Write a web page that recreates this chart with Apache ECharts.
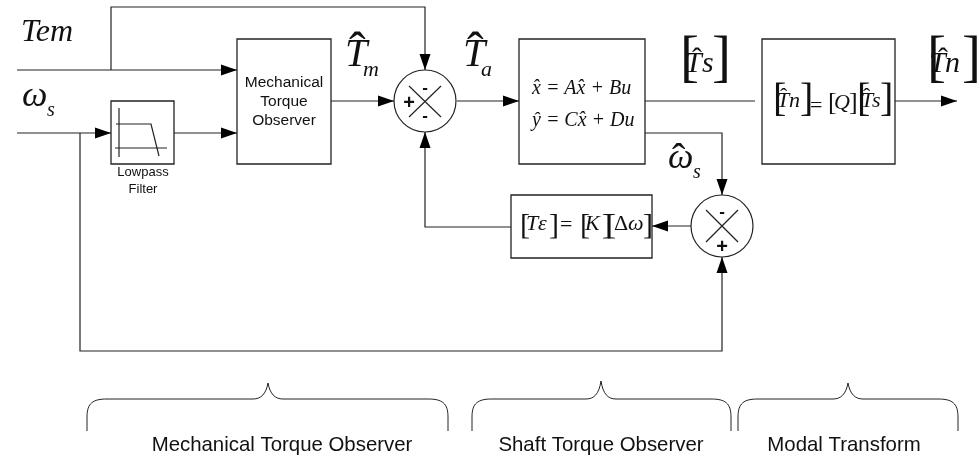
<!DOCTYPE html>
<html>
<head>
<meta charset="utf-8">
<title>Torque observer block diagram</title>
<script src="https://cdn.jsdelivr.net/npm/echarts@6/dist/echarts.min.js"></script>
<style>
  html,body{margin:0;padding:0;background:#fff;}
  #chart{width:979px;height:455px;}
</style>
</head>
<body>
<div id="chart"></div>
<script>
// diagram units are the 979x455 picture
var blocks = [
  [237, 39, 331, 164],
  [111, 101, 174, 164],
  [519, 39, 645, 164],
  [762, 39, 895, 164],
  [511, 195, 652, 258]
];
var summers = [[425, 101, 31], [722, 226, 31]];
var wires = [
  [[17, 70], [237, 70]],
  [[111, 70], [111, 7], [425, 7], [425, 70]],
  [[17, 133], [111, 133]],
  [[174, 133], [237, 133]],
  [[331, 101], [394, 101]],
  [[457, 101], [519, 101]],
  [[645, 101], [755, 101]],
  [[895, 101], [957, 101]],
  [[645, 133], [722, 133], [722, 195]],
  [[691, 226], [652, 226]],
  [[511, 227], [425, 227], [425, 132]],
  [[80, 133], [80, 351], [722, 351], [722, 257]],
  // crosses inside the summers
  [[409, 86], [441, 117]],
  [[409, 117], [441, 86]],
  [[706, 210], [738, 242]],
  [[706, 242], [738, 210]],
  // lowpass sketch
  [[119, 108], [119, 157]],
  [[115, 148], [167, 148]],
  [[116, 124], [151, 124], [159, 156]]
];
var arrows = [
  [237, 70, 'r'],
  [111, 133, 'r'],
  [237, 133, 'r'],
  [394, 101, 'r'],
  [519, 101, 'r'],
  [957, 101, 'r'],
  [425, 70, 'd'],
  [722, 195, 'd'],
  [425, 132, 'u'],
  [722, 257, 'u'],
  [652, 226, 'l']
];
// left, right, tip x, tip y
var braces = [
  [87, 448, 268, 383],
  [472, 731, 601, 381],
  [738, 958, 848, 383]
];
var sansLabels = [
  ['Mechanical', 284, 83, 15.5],
  ['Torque', 284, 102, 15.5],
  ['Observer', 284, 121, 15.5],
  ['Lowpass', 143, 172, 13],
  ['Filter', 143, 189, 13],
  ['Mechanical Torque Observer', 282, 445, 20.4],
  ['Shaft Torque Observer', 601, 445, 20.4],
  ['Modal Transform', 844, 445, 20.4]
];
var signLabels = [
  ['-', 425, 88, 17],
  ['-', 425, 116, 17],
  ['+', 409, 103, 20],
  ['-', 722, 212, 17],
  ['+', 722, 247, 20]
];
// text, left x, baseline y, size
var italicLabels = [
  ['Tem', 21, 43, 32],
  ['\u03c9', 22, 109, 36],
  ['s', 47, 117, 20],
  ['T', 345, 69, 40],
  ['m', 363, 78, 22],
  ['T', 463, 69, 40],
  ['a', 481, 78, 22],
  ['T', 685, 74, 30],
  ['s', 702, 74, 30],
  ['T', 929, 74, 30],
  ['n', 945, 74, 30],
  ['\u03c9', 668, 171, 36],
  ['s', 693, 179, 20],
  ['T', 777, 109, 22],
  ['n', 789, 109, 22],
  ['Q', 834, 111, 22],
  ['T', 861, 109, 22],
  ['s', 872, 109, 22],
  ['T', 526, 232, 22],
  ['\u03b5', 538, 232, 22],
  ['K', 585, 232, 22],
  ['\u03c9', 628, 232, 22],
  ['x\u0302 = Ax\u0302 + Bu', 532, 95, 20],
  ['y\u0302 = Cx\u0302 + Du', 532, 127, 20]
];
var romanLabels = [
  ['[', 680, 79, 57],
  [']', 712, 79, 57],
  ['[', 927, 79, 57],
  [']', 962, 79, 57],
  ['[', 773, 114, 40],
  [']', 800, 114, 40],
  ['=', 810, 114, 22],
  ['[', 828, 112, 26],
  [']', 849, 112, 26],
  ['[', 857, 114, 40],
  [']', 880, 114, 40],
  ['[', 520, 236, 30],
  [']', 549, 236, 30],
  ['=', 560, 233, 22],
  ['[', 580, 236, 30],
  [']', 602, 236, 30],
  ['[', 606, 236, 30],
  ['\u0394', 614, 232, 22],
  [']', 643, 236, 30],
  // hats
  ['\u02c6', 349, 71, 50],
  ['\u02c6', 467, 71, 50],
  ['\u02c6', 692, 70, 30],
  ['\u02c6', 938, 70, 30],
  ['\u02c6', 672, 174, 40],
  ['\u02c6', 780, 105, 22],
  ['\u02c6', 863, 105, 22]
];

var serif = '"Liberation Serif", "Times New Roman", serif';
var sans = '"Liberation Sans", Arial, sans-serif';
var ink = '#222';

function layer(list, draw) {
  return {
    type: 'custom',
    coordinateSystem: 'cartesian2d',
    silent: true,
    clip: false,
    animation: false,
    data: list.map(function (d, i) { return [i, 0]; }),
    renderItem: function (params, api) {
      return draw(list[params.dataIndex], api);
    }
  };
}
function textItem(d, api, font, align, middle) {
  var p = api.coord([d[1], d[2]]);
  return {
    type: 'text',
    style: {
      text: d[0],
      x: p[0],
      // baseline labels are shifted to the em box middle
      y: middle ? p[1] : p[1] - d[3] * 0.3375,
      font: font.replace('$', d[3]),
      fill: '#111',
      align: align,
      verticalAlign: 'middle'
    }
  };
}

var chart = echarts.init(document.getElementById('chart'), null, {renderer: 'canvas'});
chart.setOption({
  backgroundColor: '#fff',
  animation: false,
  tooltip: {show: false},
  grid: {left: 0, right: 0, top: 0, bottom: 0},
  xAxis: {type: 'value', min: 0, max: 979, show: false},
  yAxis: {type: 'value', min: 0, max: 455, inverse: true, show: false},
  series: [
    layer(blocks, function (b, api) {
      var a = api.coord([b[0], b[1]]), c = api.coord([b[2], b[3]]);
      return {
        type: 'rect',
        shape: {x: a[0], y: a[1], width: c[0] - a[0], height: c[1] - a[1]},
        style: {fill: 'none', stroke: ink, lineWidth: 1.3}
      };
    }),
    layer(summers, function (s, api) {
      var c = api.coord([s[0], s[1]]);
      return {
        type: 'circle',
        shape: {cx: c[0], cy: c[1], r: api.size([s[2], 0])[0]},
        style: {fill: 'none', stroke: ink, lineWidth: 1.2}
      };
    }),
    layer(wires, function (w, api) {
      return {
        type: 'polyline',
        shape: {points: w.map(function (p) { return api.coord(p); })},
        style: {fill: 'none', stroke: ink, lineWidth: 1.2}
      };
    }),
    layer(arrows, function (a, api) {
      var len = 16, half = 5.5;
      var t = api.coord([a[0], a[1]]);
      var dx = a[2] === 'r' ? -1 : a[2] === 'l' ? 1 : 0;
      var dy = a[2] === 'd' ? -1 : a[2] === 'u' ? 1 : 0;
      return {
        type: 'polygon',
        shape: {points: [
          t,
          [t[0] + dx * len + dy * half, t[1] + dy * len + dx * half],
          [t[0] + dx * len - dy * half, t[1] + dy * len - dx * half]
        ]},
        style: {fill: '#000'}
      };
    }),
    layer(braces, function (b, api) {
      var top = 399, bot = 431;
      var l = api.coord([b[0], bot]), lt = api.coord([b[0] + 20, top]);
      var tip = api.coord([b[2], b[3]]);
      var ml = api.coord([b[2] - 15, top]), mr = api.coord([b[2] + 15, top]);
      var rt = api.coord([b[1] - 20, top]), r = api.coord([b[1], bot]);
      var d = 'M' + l[0] + ' ' + l[1] +
        ' L' + l[0] + ' ' + (l[1] - 14) +
        ' C' + l[0] + ' ' + (lt[1] + 4) + ' ' + (l[0] + 6) + ' ' + lt[1] + ' ' + lt[0] + ' ' + lt[1] +
        ' L' + ml[0] + ' ' + ml[1] +
        ' C' + (ml[0] + 8) + ' ' + ml[1] + ' ' + (tip[0] - 2) + ' ' + (ml[1] - 5) + ' ' + tip[0] + ' ' + tip[1] +
        ' C' + (tip[0] + 2) + ' ' + (mr[1] - 5) + ' ' + (mr[0] - 8) + ' ' + mr[1] + ' ' + mr[0] + ' ' + mr[1] +
        ' L' + rt[0] + ' ' + rt[1] +
        ' C' + (r[0] - 6) + ' ' + rt[1] + ' ' + r[0] + ' ' + (rt[1] + 4) + ' ' + r[0] + ' ' + (r[1] - 14) +
        ' L' + r[0] + ' ' + r[1];
      return {
        type: 'path',
        shape: {pathData: d},
        style: {fill: 'none', stroke: ink, lineWidth: 1}
      };
    }),
    layer(sansLabels, function (d, api) { return textItem(d, api, '$px ' + sans, 'center', true); }),
    layer(signLabels, function (d, api) { return textItem(d, api, 'bold $px ' + sans, 'center', true); }),
    layer(italicLabels, function (d, api) { return textItem(d, api, 'italic $px ' + serif, 'left', false); }),
    layer(romanLabels, function (d, api) { return textItem(d, api, '$px ' + serif, 'left', false); })
  ]
});
window.addEventListener('resize', function () { chart.resize(); });
</script>
</body>
</html>
